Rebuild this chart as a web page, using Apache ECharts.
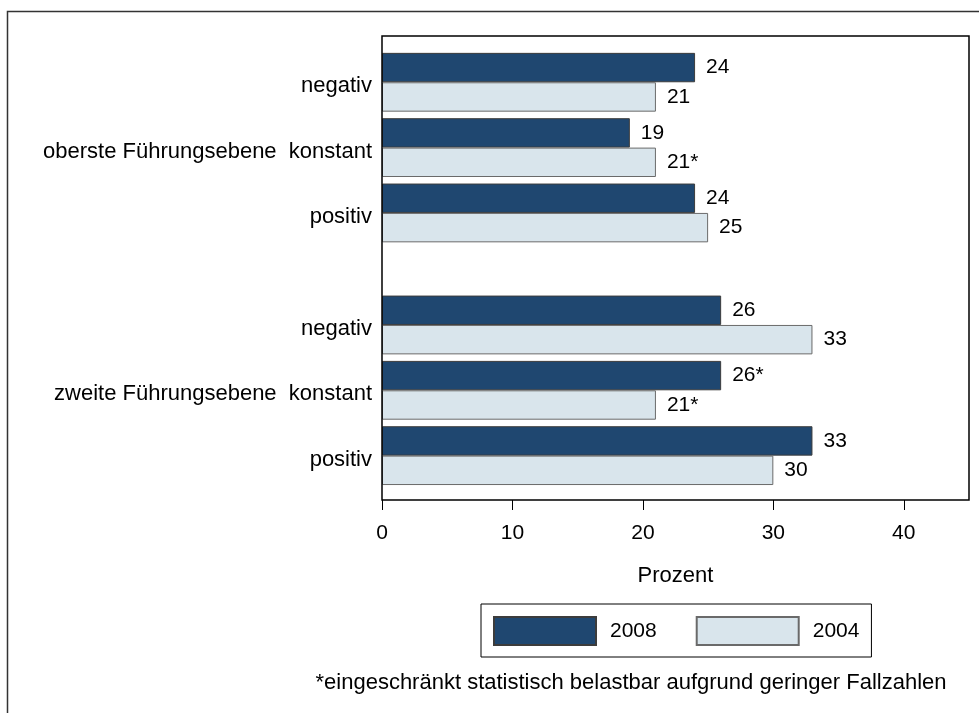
<!DOCTYPE html>
<html>
<head>
<meta charset="utf-8">
<title>Führungsebene 2004 / 2008</title>
<script src="https://cdn.jsdelivr.net/npm/echarts@6/dist/echarts.min.js"></script>
<style>
  html, body { margin: 0; padding: 0; background: #fff; }
  #chart { width: 979px; height: 713px; }
</style>
</head>
<body>
<div id="chart"></div>
<script>
// Categories per management level
const categories = ['negativ', 'konstant', 'positiv'];
const groups = ['oberste Führungsebene', 'zweite Führungsebene'];
const years = ['2008', '2004'];

// Percent values, one row per management level
const values2008 = [[24, 19, 24], [26, 26, 33]];
const values2004 = [[21, 21, 25], [33, 21, 30]];

// Values with limited statistical reliability (marked with *)
const starred2008 = [[false, false, false], [false, true, false]];
const starred2004 = [[false, true, false], [false, true, false]];

const xTicks = [0, 10, 20, 30, 40];
const xMax = 45;
const xTitle = 'Prozent';
const footnote = '*eingeschränkt statistisch belastbar aufgrund geringer Fallzahlen';

const FONT = '"Liberation Sans", Arial, Helvetica, sans-serif';
const FS_NUM = 21;   // numbers: ticks, bar values, legend
const FS_TXT = 22;   // words: category names, axis title, footnote
const colors = { '2008': '#1f4770', '2004': '#d9e5ec' };
const borders = { '2008': '#3c3c3c', '2004': '#6a6a6a' };

// Plot frame and the two stacked panels inside it
const plot = { left: 382, top: 36, width: 587, height: 464 };
const panelHeight = 196;
const panelTops = [49.6, 292.3];

const chart = echarts.init(document.getElementById('chart'));

const grids = panelTops.map(t => ({
  left: plot.left, top: t, width: plot.width, height: panelHeight
}));

const last = groups.length - 1;
const xAxes = groups.map((g, i) => ({
  gridIndex: i,
  type: 'value',
  min: 0,
  max: xMax,
  show: i === last,
  offset: i === last ? (plot.top + plot.height) - (panelTops[i] + panelHeight) : 0,
  axisLine: { show: false },
  axisTick: { show: true, length: 10, customValues: xTicks, lineStyle: { color: '#000', width: 1 } },
  axisLabel: { customValues: xTicks, fontSize: FS_NUM, fontFamily: FONT, color: '#000', margin: 23 },
  splitLine: { show: false },
  name: i === last ? xTitle : '',
  nameLocation: 'middle',
  nameGap: 65,
  nameTextStyle: { fontSize: FS_TXT, fontFamily: FONT, color: '#000' }
}));

const yAxes = groups.map((g, i) => ({
  gridIndex: i,
  type: 'category',
  inverse: true,
  data: categories,
  axisLine: { show: false },
  axisTick: { show: false },
  axisLabel: {
    fontSize: FS_TXT, fontFamily: FONT, color: '#000', margin: 10,
    formatter: (v, idx) => '{c|' + (idx === 1 ? g + '  ' + v : v) + '}',
    rich: {
      c: { fontSize: FS_TXT, fontFamily: FONT, color: '#000', padding: [8, 0, 0, 0] }
    }
  }
}));

const series = [];
groups.forEach((g, gi) => {
  years.forEach(y => {
    const vals = y === '2008' ? values2008[gi] : values2004[gi];
    const stars = y === '2008' ? starred2008[gi] : starred2004[gi];
    series.push({
      type: 'bar',
      name: y,
      xAxisIndex: gi,
      yAxisIndex: gi,
      barGap: '0%',
      barCategoryGap: '10%',
      itemStyle: { color: colors[y], borderColor: borders[y], borderWidth: 1 },
      label: {
        show: true,
        position: 'right',
        distance: 11,
        fontSize: FS_NUM,
        fontFamily: FONT,
        color: '#000',
        formatter: p => p.value + (p.data.starred ? '*' : '')
      },
      emphasis: { disabled: true },
      data: vals.map((v, k) => ({ value: v, starred: stars[k] }))
    });
  });
});

chart.setOption({
  backgroundColor: '#fff',
  animation: false,
  grid: grids,
  xAxis: xAxes,
  yAxis: yAxes,
  legend: {
    data: years,
    left: 481,
    top: 604,
    orient: 'horizontal',
    icon: 'rect',
    itemWidth: 102,
    itemHeight: 28,
    itemGap: 39,
    padding: [12, 12, 11, 12],
    borderColor: '#000',
    borderWidth: 1,
    selectedMode: false,
    textStyle: { fontSize: FS_NUM, fontFamily: FONT, color: '#000', padding: [0, 0, 0, 9] }
  },
  graphic: [
    // outer frame
    {
      type: 'rect', silent: true,
      shape: { x: 7.5, y: 11.5, width: 1200, height: 1000 },
      style: { fill: null, stroke: '#333', lineWidth: 1.5 }
    },
    // plot frame
    {
      type: 'rect', silent: true, z: 10,
      shape: { x: plot.left, y: plot.top, width: plot.width, height: plot.height },
      style: { fill: null, stroke: '#000', lineWidth: 1.5 }
    },
    {
      type: 'text', silent: true,
      style: {
        text: footnote, x: 631, y: 683,
        align: 'center', verticalAlign: 'middle',
        font: FS_TXT + 'px ' + FONT, fill: '#000'
      }
    }
  ],
  series: series
});
</script>
</body>
</html>
